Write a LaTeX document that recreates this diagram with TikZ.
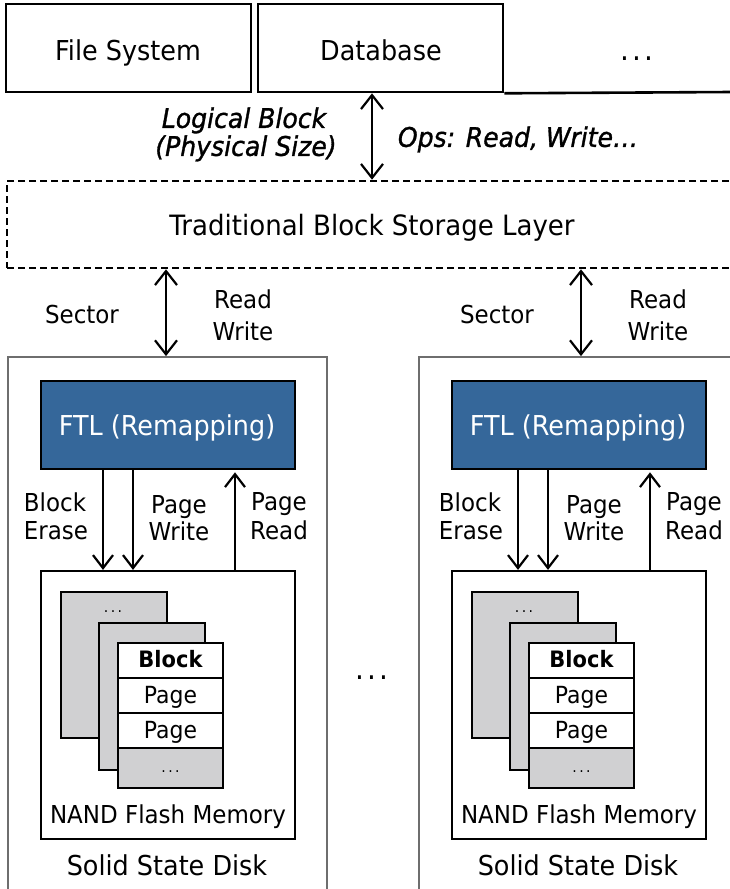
\documentclass[tikz,border=0pt]{standalone}
\usepackage{fontspec}
\setmainfont{DejaVu Sans}[FakeStretch=0.93]
\newfontfamily\heavyital{DejaVu Sans}[FakeStretch=0.93, FakeBold=1.2]
\usetikzlibrary{arrows.meta}
\definecolor{ftlblue}{HTML}{35679A}
\definecolor{blockgray}{HTML}{D0D0D2}
\definecolor{diskgray}{HTML}{6E6E6E}

\begin{document}
\begin{tikzpicture}[x=1pt,y=-1pt,
  % text styles: the node centre sits at the middle of the capitals
  bigtxt/.style={font=\fontsize{27.4}{32}\selectfont, text height=20pt, text depth=0pt, inner sep=0pt},
  laytxt/.style={font=\fontsize{28}{32}\selectfont, text height=20.4pt, text depth=0pt, inner sep=0pt},
  ittxt/.style={font=\heavyital\fontsize{27}{32}\selectfont\itshape, text height=19.7pt, text depth=0pt, inner sep=0pt},
  lbltxt/.style={font=\fontsize{24.7}{30}\selectfont, text height=18pt, text depth=0pt, inner sep=0pt},
  rowtxt/.style={font=\fontsize{23.6}{28}\selectfont, text height=17.2pt, text depth=0pt, inner sep=0pt},
  rowbold/.style={font=\fontsize{22.6}{28}\selectfont\bfseries, text height=16.5pt, text depth=0pt, inner sep=0pt},
  dottxt/.style={inner sep=0pt},
  % boxes
  appbox/.style={draw=black, line width=2.6pt, inner sep=0pt},
  layerbox/.style={draw=black, line width=2.6pt, dash pattern=on 7pt off 4pt, inner sep=0pt},
  diskbox/.style={draw=diskgray, line width=1.8pt, inner sep=0pt},
  ftlbox/.style={draw=black, fill=ftlblue, line width=2.6pt, inner sep=0pt},
  nandbox/.style={draw=black, line width=2.2pt, inner sep=0pt},
  graybox/.style={draw=black, fill=blockgray, line width=2.2pt, inner sep=0pt},
  whitebox/.style={draw=black, fill=white, line width=2.2pt, inner sep=0pt},
  dblarrow/.style={line width=2.2pt, {Straight Barb[length=14pt,width=22pt]}-{Straight Barb[length=14pt,width=22pt]}},
  onearrow/.style={line width=2.2pt, -{Straight Barb[length=13pt,width=20pt]}},
]
\path[use as bounding box, clip] (0,0) rectangle (730,889);

% ---- applications ----
\node[appbox, minimum width=245, minimum height=88] (fs) at (128.5,48) {};
\node[appbox, minimum width=245, minimum height=88] (db) at (380.5,48) {};
\coordinate (rightend) at (731,92);
\draw[line width=2.6pt] (db.south east) -- (rightend);
\node[bigtxt] (fsT) at (128,50) {File System};
\node[bigtxt] (dbT) at (381,50) {Database};
\node[dottxt, font=\fontsize{30}{30}\selectfont] (topdots) at (637,59) {.\kern3pt.\kern3pt.};

% ---- block storage layer ----
\node[layerbox, minimum width=730, minimum height=87] (layer) at (372,224.5) {};
\node[laytxt] (layerT) at (372,225) {Traditional Block Storage Layer};

\coordinate (topx) at (372,0);
\draw[dblarrow] (topx |- db.south) -- (topx |- layer.north);
\node[ittxt] (lb1) at (244,118) {Logical Block};
\node[ittxt] (lb2) at (246,146) {(Physical Size)};
\node[ittxt] (ops) at (518,137) {Ops: Read, Write\ldots};

% ---- the two solid state disks ----
\foreach \s/\a/\n in {0/0/L, 411/415/R}{
  \node[diskbox, minimum width=319, minimum height=543] (ssd\n) at ({167.5+\s},628.5) {};
  \node[ftlbox, minimum width=254, minimum height=88] (ftl\n) at ({168+\s},425) {};
  \node[bigtxt, text=white] (ftlT\n) at ({167+\s},425) {FTL (Remapping)};
  \node[nandbox, minimum width=254, minimum height=268] (nand\n) at ({168+\s},705) {};

  % stacked flash blocks
  \node[graybox, minimum width=106, minimum height=146] (back\n) at ({114+\s},665) {};
  \node[dottxt, font=\fontsize{15}{15}\selectfont] (backdots\n) at ({113+\s},612) {.\kern2.5pt.\kern2.5pt.};
  \node[graybox, minimum width=106, minimum height=147] (mid\n) at ({152+\s},696.5) {};
  \node[whitebox, minimum width=105, minimum height=35] (row1\n) at ({170.5+\s},660.5) {};
  \node[whitebox, minimum width=105, minimum height=35] (row2\n) at ({170.5+\s},695.5) {};
  \node[whitebox, minimum width=105, minimum height=35] (row3\n) at ({170.5+\s},730.5) {};
  \node[graybox, minimum width=105, minimum height=40] (row4\n) at ({170.5+\s},768) {};
  \node[rowbold] (row1T\n) at ({170.5+\s},659) {Block};
  \node[rowtxt] (row2T\n) at ({170.5+\s},694.5) {Page};
  \node[rowtxt] (row3T\n) at ({170.5+\s},729.5) {Page};
  \node[dottxt, font=\fontsize{15}{15}\selectfont] (row4T\n) at ({170.5+\s},772) {.\kern2.5pt.\kern2.5pt.};

  \node[lbltxt] (nandT\n) at ({168+\s},814) {NAND Flash Memory};
  \node[bigtxt] (ssdT\n) at ({167+\s},865) {Solid State Disk};

  % sector interface
  \coordinate (secx\n) at ({166+\a},0);
  \draw[dblarrow] (secx\n |- layer.south) -- (secx\n |- ssd\n.north);
  \node[lbltxt] (secT\n) at ({82+\a},314) {Sector};
  \node[lbltxt] (rdT\n) at ({243+\a},299.5) {Read};
  \node[lbltxt] (wrT\n) at ({243+\a},331) {Write};

  % flash operations
  \coordinate (erx\n) at ({103+\a},0);
  \coordinate (pwx\n) at ({133+\a},0);
  \coordinate (prx\n) at ({235+\a},0);
  \draw[onearrow] (erx\n |- ftl\n.south) -- (erx\n |- nand\n.north);
  \draw[onearrow] (pwx\n |- ftl\n.south) -- (pwx\n |- nand\n.north);
  \draw[onearrow] (prx\n |- nand\n.north) -- ([yshift=-2pt]prx\n |- ftl\n.south);
  \node[lbltxt] (beT\n) at ({55+\a},502) {Block};
  \node[lbltxt] (eT\n) at ({56+\a},530.5) {Erase};
  \node[lbltxt] (pgT\n) at ({179+\a},504.5) {Page};
  \node[lbltxt] (pwT\n) at ({179+\a},531) {Write};
  \node[lbltxt] (pg2T\n) at ({279+\a},501.5) {Page};
  \node[lbltxt] (prT\n) at ({279+\a},530) {Read};
}

\node[dottxt, font=\fontsize{30}{30}\selectfont] (middots) at (372,678) {.\kern3pt.\kern3pt.};
\end{tikzpicture}
\end{document}
